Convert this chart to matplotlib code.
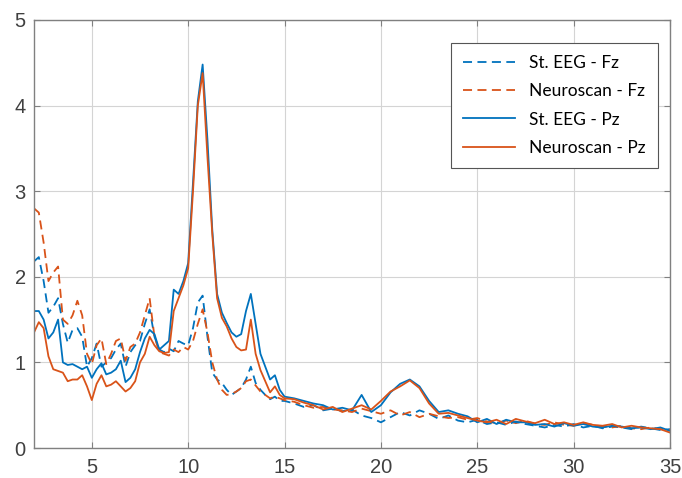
import matplotlib
matplotlib.use("Agg")
import matplotlib.pyplot as plt

plt.rcParams['font.family'] = ['Liberation Sans', 'DejaVu Sans']

freq = [2.0, 2.25, 2.5, 2.75, 3.0, 3.25, 3.5, 3.75, 4.0, 4.25, 4.5, 4.75,
        5.0, 5.25, 5.5, 5.75, 6.0, 6.25, 6.5, 6.75, 7.0, 7.25, 7.5, 7.75,
        8.0, 8.25, 8.5, 8.75, 9.0, 9.25, 9.5, 9.75, 10.0, 10.25, 10.5, 10.75,
        11.0, 11.25, 11.5, 11.75, 12.0, 12.25, 12.5, 12.75, 13.0, 13.25, 13.5,
        13.75, 14.0, 14.25, 14.5, 14.75, 15.0,
        15.5, 16.0, 16.5, 17.0, 17.5, 18.0, 18.5, 19.0, 19.5, 20.0, 20.5, 21.0,
        21.5, 22.0, 22.5, 23.0, 23.5, 24.0, 24.5, 25.0, 25.5, 26.0, 26.5, 27.0,
        27.5, 28.0, 28.5, 29.0, 29.5, 30.0, 30.5, 31.0, 31.5, 32.0, 32.5, 33.0,
        33.5, 34.0, 34.5, 35.0]

st_eeg_fz = [2.18, 2.23, 1.95, 1.58, 1.65, 1.75, 1.45, 1.23, 1.38, 1.40, 1.30, 0.95,
             1.05, 1.22, 0.95, 1.00, 1.05, 1.15, 1.22, 0.95, 1.12, 1.20, 1.25, 1.45,
             1.62, 1.30, 1.15, 1.12, 1.16, 1.13, 1.25, 1.22, 1.20, 1.40, 1.70, 1.78,
             1.30, 0.88, 0.80, 0.76, 0.68, 0.62, 0.66, 0.70, 0.80, 0.95, 0.76,
             0.68, 0.62, 0.57, 0.60, 0.55, 0.55,
             0.52, 0.48, 0.50, 0.44, 0.46, 0.43, 0.45, 0.38, 0.35, 0.30, 0.36, 0.42,
             0.38, 0.44, 0.40, 0.34, 0.38, 0.32, 0.30, 0.33, 0.28, 0.30, 0.27, 0.31,
             0.28, 0.26, 0.24, 0.27, 0.25, 0.28, 0.24, 0.26, 0.23, 0.25, 0.24, 0.22,
             0.25, 0.23, 0.21, 0.22]

neuroscan_fz = [2.80, 2.75, 2.40, 1.95, 2.05, 2.12, 1.50, 1.45, 1.55, 1.72, 1.55, 1.10,
                0.98, 1.20, 1.28, 0.98, 1.10, 1.25, 1.28, 1.02, 1.18, 1.22, 1.35, 1.55,
                1.75, 1.30, 1.12, 1.10, 1.08, 1.15, 1.12, 1.18, 1.15, 1.25, 1.45, 1.62,
                1.35, 1.00, 0.80, 0.68, 0.62, 0.63, 0.66, 0.70, 0.78, 0.80, 0.73,
                0.66, 0.62, 0.58, 0.60, 0.58, 0.56,
                0.54, 0.50, 0.47, 0.48, 0.45, 0.44, 0.42, 0.46, 0.43, 0.40, 0.44, 0.38,
                0.42, 0.36, 0.40, 0.37, 0.35, 0.36, 0.33, 0.35, 0.31, 0.29, 0.32, 0.29,
                0.32, 0.28, 0.27, 0.30, 0.27, 0.26, 0.29, 0.27, 0.25, 0.24, 0.26, 0.23,
                0.22, 0.24, 0.22, 0.21]

st_eeg_pz = [1.60, 1.60, 1.50, 1.28, 1.35, 1.50, 1.00, 0.97, 0.98, 0.95, 0.92, 0.95,
             0.82, 0.92, 0.99, 0.86, 0.88, 0.92, 1.02, 0.77, 0.82, 0.92, 1.12, 1.28,
             1.38, 1.33, 1.15, 1.20, 1.25, 1.85, 1.80, 1.95, 2.16, 3.10, 4.05, 4.48,
             3.60, 2.55, 1.80, 1.58, 1.46, 1.35, 1.30, 1.33, 1.60, 1.80, 1.45,
             1.10, 0.95, 0.80, 0.85, 0.68, 0.60,
             0.58, 0.55, 0.52, 0.50, 0.45, 0.47, 0.44, 0.62, 0.42, 0.50, 0.65, 0.75,
             0.80, 0.72, 0.55, 0.42, 0.44, 0.40, 0.37, 0.30, 0.34, 0.28, 0.33, 0.30,
             0.30, 0.27, 0.28, 0.25, 0.29, 0.26, 0.28, 0.25, 0.24, 0.26, 0.25, 0.23,
             0.24, 0.22, 0.24, 0.20]

neuroscan_pz = [1.35, 1.47, 1.40, 1.07, 0.92, 0.90, 0.88, 0.78, 0.80, 0.80, 0.85, 0.72,
                0.56, 0.75, 0.85, 0.72, 0.74, 0.78, 0.72, 0.66, 0.70, 0.78, 1.00, 1.10,
                1.30, 1.20, 1.13, 1.11, 1.12, 1.60, 1.75, 1.90, 2.10, 3.00, 4.00, 4.38,
                3.40, 2.50, 1.75, 1.52, 1.42, 1.28, 1.18, 1.14, 1.15, 1.50, 1.10,
                0.91, 0.78, 0.65, 0.72, 0.62, 0.58,
                0.57, 0.53, 0.50, 0.45, 0.48, 0.42, 0.46, 0.50, 0.45, 0.55, 0.66, 0.72,
                0.79, 0.70, 0.52, 0.40, 0.41, 0.38, 0.35, 0.32, 0.30, 0.33, 0.28, 0.34,
                0.31, 0.29, 0.33, 0.28, 0.30, 0.27, 0.30, 0.27, 0.26, 0.28, 0.24, 0.26,
                0.24, 0.23, 0.22, 0.18]

labels = ["St. EEG - Fz", "Neuroscan - Fz", "St. EEG - Pz", "Neuroscan - Pz"]
xticks = [5, 10, 15, 20, 25, 30, 35]
yticks = [0, 1, 2, 3, 4, 5]

blue = "#0072BD"
orange = "#D95319"

fig = plt.figure(figsize=(6.82, 4.78), dpi=100)
ax = fig.add_axes([34/682, 30/478, 636/682, 428/478])

lw = 1.3
ax.plot(freq, st_eeg_fz, color=blue, lw=lw, ls=(0, (5, 3)), label=labels[0])
ax.plot(freq, neuroscan_fz, color=orange, lw=lw, ls=(0, (5, 3)), label=labels[1])
ax.plot(freq, st_eeg_pz, color=blue, lw=lw, label=labels[2])
ax.plot(freq, neuroscan_pz, color=orange, lw=lw, label=labels[3])

ax.set_xlim(2, 35)
ax.set_ylim(0, 5)
ax.set_xticks(xticks)
ax.set_yticks(yticks)
ax.grid(True, color="#d4d4d4", lw=0.8)
ax.set_axisbelow(True)
ax.tick_params(direction="in", top=True, right=True, labelsize=14.5,
               labelcolor="#404040", color="#808080", length=4, width=0.8)
ax.tick_params(axis="x", pad=7)
ax.tick_params(axis="y", pad=6)
for s in ax.spines.values():
    s.set_color("#808080")
    s.set_linewidth(1.0)

leg = ax.legend(loc="upper right", bbox_to_anchor=(0.981, 0.946), borderaxespad=0,
                fontsize=12.5, handlelength=3.0, labelspacing=0.7, fancybox=False,
                framealpha=1, edgecolor="#555555", borderpad=0.7,
                prop={'family': ['Lato', 'DejaVu Sans'], 'size': 12.5})
leg.get_frame().set_linewidth(0.8)

fig.savefig("out.png", dpi=100)
